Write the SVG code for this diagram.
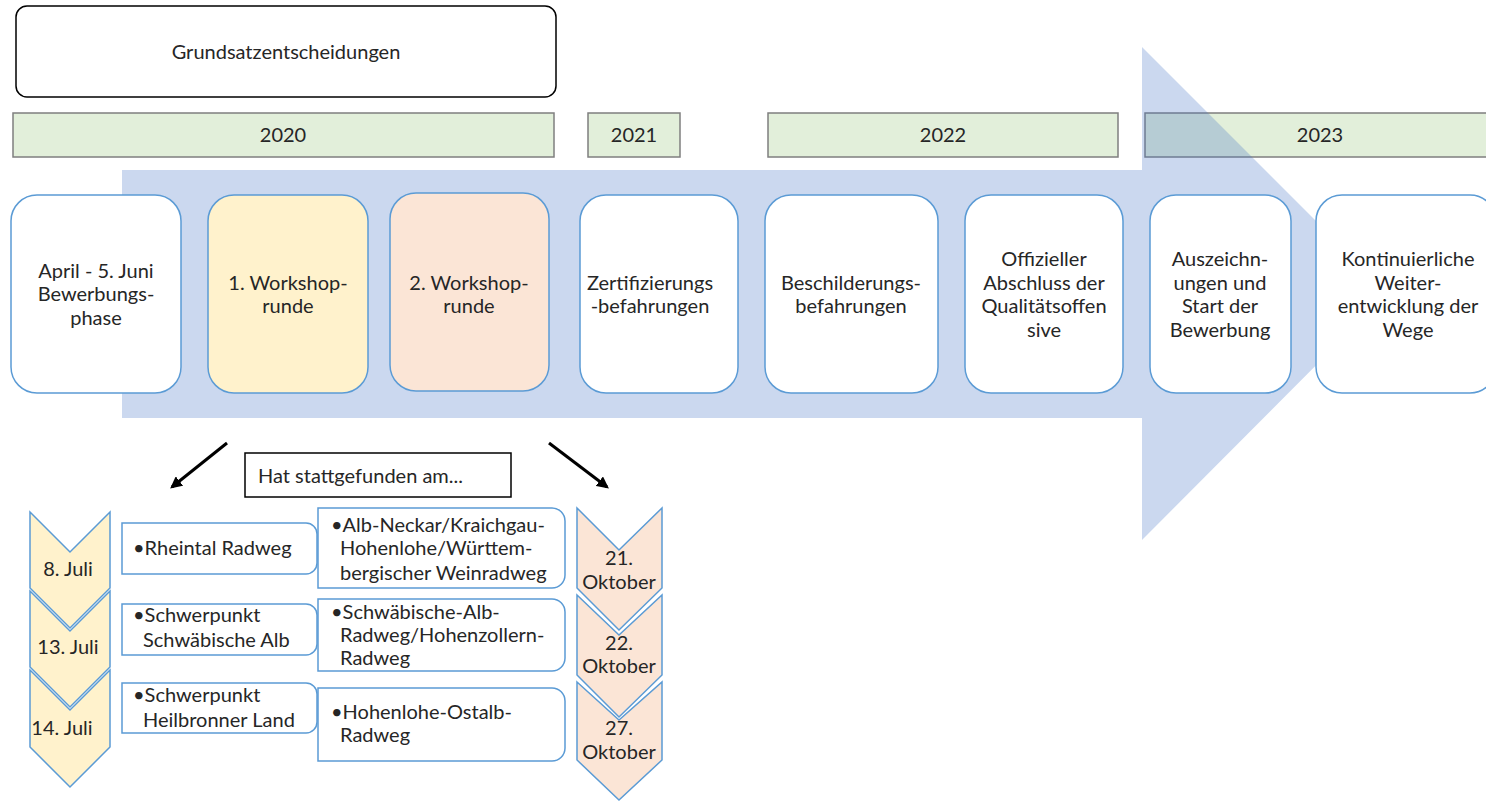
<svg xmlns="http://www.w3.org/2000/svg" width="1486" height="803" viewBox="0 0 1486 803">
<style>
text{font-family:Lato,"Noto Sans","Liberation Sans",sans-serif;font-size:20px;fill:#262626}
.c{text-anchor:middle}
.year{fill:#e2efda;stroke:#7f7f7f;stroke-width:1.5}
.node{stroke:#5b9bd5;stroke-width:1.5}
.chev{stroke:#5b9bd5;stroke-width:1.5}
.tb{fill:#fff;stroke:#5b9bd5;stroke-width:1.5}
.conn{stroke:#000;stroke-width:3;fill:none}
</style>
<defs>
<marker id="ah" viewBox="0 0 10 10" refX="8" refY="5" markerWidth="4" markerHeight="4" orient="auto" markerUnits="strokeWidth">
<path d="M0,0 L10,5 L0,10 z" fill="#000"/>
</marker>
</defs>
<rect width="1486" height="803" fill="#fff"/>

<g id="grundsatz">
<rect x="16" y="6" width="540" height="91" rx="11" fill="#fff" stroke="#000" stroke-width="1.5"/>
<text x="286" y="59" class="c">Grundsatzentscheidungen</text>
</g>

<g id="years">
<g id="y2020"><rect class="year" x="13" y="113" width="541" height="44"/><text x="283" y="142" class="c">2020</text></g>
<g id="y2021"><rect class="year" x="588" y="113" width="92" height="44"/><text x="634" y="142" class="c">2021</text></g>
<g id="y2022"><rect class="year" x="768" y="113" width="350" height="44"/><text x="943" y="142" class="c">2022</text></g>
<g id="y2023"><rect class="year" x="1145" y="113" width="345" height="44"/><text x="1320" y="142" class="c">2023</text></g>
</g>

<g id="bigarrow">
<path d="M122,170 H1142 V47 L1388,293 L1142,540 V418 H122 Z" fill="#4472c4" fill-opacity="0.28"/>
</g>

<g id="n1"><rect class="node" x="11" y="195" width="170" height="198" rx="26" fill="#fff"/>
<text class="c"><tspan x="96" y="278">April - 5. Juni</tspan><tspan x="96" y="301">Bewerbungs-</tspan><tspan x="96" y="325">phase</tspan></text></g>
<g id="n2"><rect class="node" x="208" y="195" width="160" height="198" rx="26" fill="#fff2cc"/>
<text class="c"><tspan x="288" y="290">1. Workshop-</tspan><tspan x="288" y="313">runde</tspan></text></g>
<g id="n3"><rect class="node" x="390" y="193" width="159" height="198" rx="26" fill="#fbe5d6"/>
<text class="c"><tspan x="469" y="290">2. Workshop-</tspan><tspan x="469" y="313">runde</tspan></text></g>
<g id="n4"><rect class="node" x="580" y="195" width="158" height="198" rx="26" fill="#fff"/>
<text class="c"><tspan x="650" y="290">Zertifizierungs</tspan><tspan x="650" y="313">-befahrungen</tspan></text></g>
<g id="n5"><rect class="node" x="765" y="195" width="173" height="198" rx="26" fill="#fff"/>
<text class="c"><tspan x="851" y="290">Beschilderungs-</tspan><tspan x="851" y="313">befahrungen</tspan></text></g>
<g id="n6"><rect class="node" x="965" y="195" width="158" height="198" rx="26" fill="#fff"/>
<text class="c"><tspan x="1044" y="266">Offizieller</tspan><tspan x="1044" y="290">Abschluss der</tspan><tspan x="1044" y="313">Qualitätsoffen</tspan><tspan x="1044" y="337">sive</tspan></text></g>
<g id="n7"><rect class="node" x="1150" y="195" width="141" height="198" rx="26" fill="#fff"/>
<text class="c"><tspan x="1220" y="266">Auszeichn-</tspan><tspan x="1220" y="290">ungen und</tspan><tspan x="1220" y="313">Start der</tspan><tspan x="1220" y="337">Bewerbung</tspan></text></g>
<g id="n8"><rect class="node" x="1316" y="195" width="180" height="198" rx="26" fill="#fff"/>
<text class="c"><tspan x="1408" y="266">Kontinuierliche</tspan><tspan x="1408" y="290">Weiter-</tspan><tspan x="1408" y="313">entwicklung der</tspan><tspan x="1408" y="337">Wege</tspan></text></g>

<g id="connectors">
<line class="conn" x1="227" y1="443" x2="172" y2="487" marker-end="url(#ah)"/>
<line class="conn" x1="549" y1="443" x2="607" y2="487" marker-end="url(#ah)"/>
</g>

<g id="hat">
<rect x="245" y="453" width="266" height="44" fill="#fff" stroke="#000" stroke-width="1.5"/>
<text x="258" y="483">Hat stattgefunden am...</text>
</g>

<g id="chev-juli">
<path class="chev" fill="#fff2cc" d="M30,512 L70,552 L110,512 V588 L70,628 L30,588 Z"/>
<path class="chev" fill="#fff2cc" d="M30,591 L70,631 L110,591 V667 L70,707 L30,667 Z"/>
<path class="chev" fill="#fff2cc" d="M30,670 L70,710 L110,670 V747 L70,787 L30,747 Z"/>
<text class="c" x="68" y="576">8. Juli</text>
<text class="c" x="68" y="654">13. Juli</text>
<text class="c" x="62" y="735">14. Juli</text>
</g>

<g id="chev-okt">
<path class="chev" fill="#fbe5d6" d="M577,508 L619,550 L662,508 V588 L619,630 L577,588 Z"/>
<path class="chev" fill="#fbe5d6" d="M577,595 L619,635 L662,595 V675 L619,717 L577,675 Z"/>
<path class="chev" fill="#fbe5d6" d="M577,682 L619,720 L662,682 V760 L619,800 L577,760 Z"/>
<text class="c"><tspan x="619" y="565">21.</tspan><tspan x="619" y="589">Oktober</tspan></text>
<text class="c"><tspan x="619" y="650">22.</tspan><tspan x="619" y="673">Oktober</tspan></text>
<text class="c"><tspan x="619" y="735">27.</tspan><tspan x="619" y="759">Oktober</tspan></text>
</g>

<g id="l1"><path class="tb" d="M122,523 H306 A11,11 0 0 1 317,534 V563 A11,11 0 0 1 306,574 H122 Z"/>
<text x="133" y="555">•Rheintal Radweg</text></g>
<g id="l2"><path class="tb" d="M122,604 H306 A11,11 0 0 1 317,615 V644 A11,11 0 0 1 306,655 H122 Z"/>
<text><tspan x="133" y="622">•Schwerpunkt</tspan><tspan x="143" y="647">Schwäbische Alb</tspan></text></g>
<g id="l3"><path class="tb" d="M122,683 H306 A11,11 0 0 1 317,694 V722 A11,11 0 0 1 306,733 H122 Z"/>
<text><tspan x="133" y="702">•Schwerpunkt</tspan><tspan x="143" y="727">Heilbronner Land</tspan></text></g>

<g id="r1"><path class="tb" d="M318,508 H552 A13,13 0 0 1 565,521 V575 A13,13 0 0 1 552,588 H318 Z"/>
<text><tspan x="331" y="532">•Alb-Neckar/Kraichgau-</tspan><tspan x="340" y="555">Hohenlohe/Württem-</tspan><tspan x="340" y="580">bergischer Weinradweg</tspan></text></g>
<g id="r2"><path class="tb" d="M318,599 H552 A13,13 0 0 1 565,612 V658 A13,13 0 0 1 552,671 H318 Z"/>
<text><tspan x="331" y="619">•Schwäbische-Alb-</tspan><tspan x="340" y="642">Radweg/Hohenzollern-</tspan><tspan x="340" y="665">Radweg</tspan></text></g>
<g id="r3"><path class="tb" d="M318,688 H552 A13,13 0 0 1 565,701 V748 A13,13 0 0 1 552,761 H318 Z"/>
<text><tspan x="331" y="719">•Hohenlohe-Ostalb-</tspan><tspan x="340" y="742">Radweg</tspan></text></g>
</svg>
